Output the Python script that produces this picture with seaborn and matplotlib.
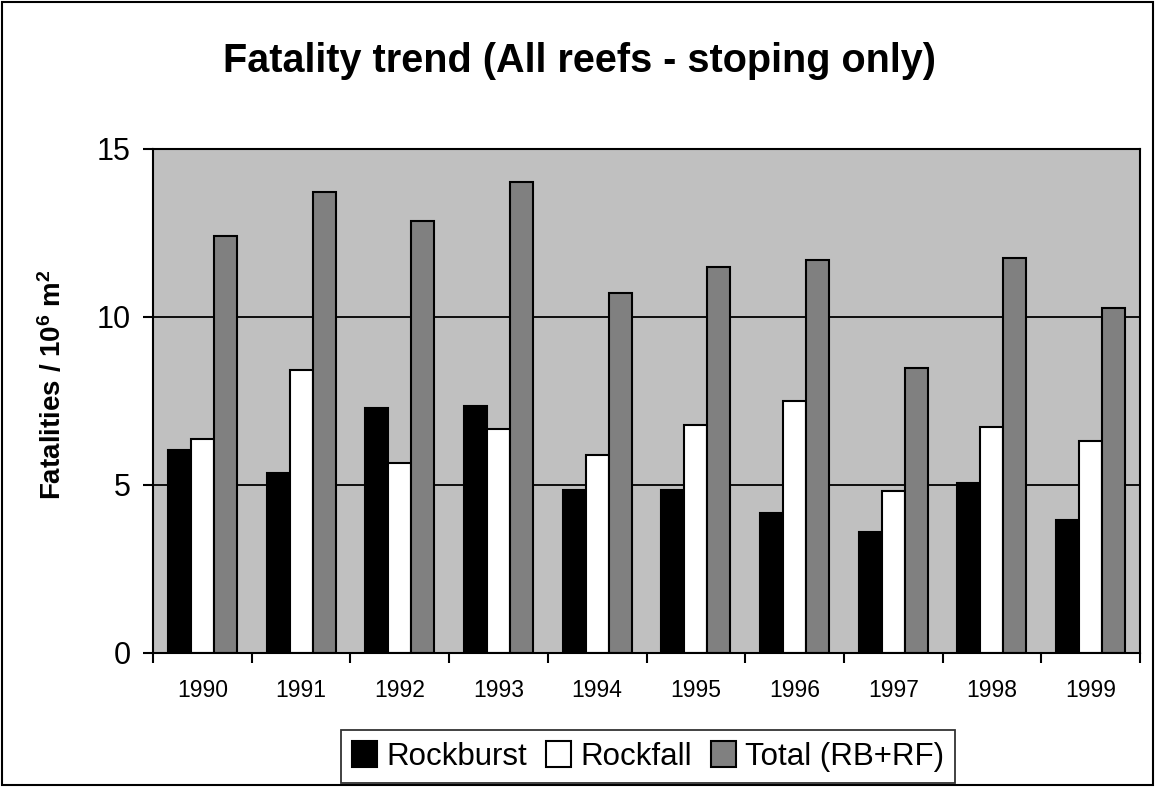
import numpy as np
import pandas as pd
import seaborn as sns
import matplotlib.pyplot as plt
from matplotlib.patches import Rectangle

years = ["1990", "1991", "1992", "1993", "1994", "1995", "1996", "1997", "1998", "1999"]
rockburst = [6.03, 5.37, 7.28, 7.34, 4.84, 4.84, 4.17, 3.59, 5.07, 3.95]
rockfall = [6.37, 8.41, 5.65, 6.67, 5.89, 6.78, 7.51, 4.82, 6.73, 6.32]
total = [12.40, 13.72, 12.87, 14.02, 10.72, 11.50, 11.69, 8.47, 11.75, 10.26]
series_names = ["Rockburst", "Rockfall", "Total (RB+RF)"]
y_ticks = [0, 5, 10, 15]

df = pd.DataFrame({
    "year": years * 3,
    "value": rockburst + rockfall + total,
    "series": [s for s in series_names for _ in years],
})

sns.set_style("white")
plt.rcParams["font.family"] = ["Liberation Sans", "DejaVu Sans"]
plt.rcParams["text.color"] = "black"
plt.rcParams["xtick.color"] = "black"
plt.rcParams["ytick.color"] = "black"
plt.rcParams["axes.labelcolor"] = "black"
plt.rcParams["mathtext.fontset"] = "custom"
plt.rcParams["mathtext.bf"] = "Liberation Sans:bold"
plt.rcParams["mathtext.rm"] = "Liberation Sans"

fig = plt.figure(figsize=(11.55, 7.87), dpi=100)
ax = fig.add_axes([0.1325, 0.1703, 0.8545, 0.6404])

sns.barplot(data=df, x="year", y="value", hue="series",
            palette=["black", "white", "#808080"], edgecolor="black",
            linewidth=1.5, width=0.7, gap=0, saturation=1, ax=ax)
ax.get_legend().remove()

ax.set_facecolor("#C0C0C0")
ax.set_ylim(0, 15)
ax.set_xlim(-0.5, len(years) - 0.5)
ax.set_yticks(y_ticks)
ax.yaxis.grid(True, color="black", linewidth=1.3)
ax.set_axisbelow(True)
for sp in ax.spines.values():
    sp.set_color("black")
    sp.set_linewidth(1.5)
    sp.set_visible(True)

ax.tick_params(axis="y", direction="out", length=7, width=1.5, pad=9, labelsize=22, left=True)
ax.tick_params(axis="x", which="major", length=0, pad=19, labelsize=16.5)
ax.set_xticks(np.arange(-0.5, len(years), 1), minor=True)
ax.tick_params(axis="x", which="minor", direction="out", length=7, width=1.5, bottom=True)
ax.set_xlabel("")
ax.set_ylabel(r"Fatalities / $\mathbf{10^6}$ $\mathbf{m^2}$", fontsize=20, fontweight="bold")
ax.yaxis.set_label_coords(-0.087, 0.532)

fig.text(0.502, 0.9085, "Fatality trend (All reefs - stoping only)", ha="center", va="baseline",
         fontsize=28.5, fontweight="bold")

handles, labels = ax.get_legend_handles_labels()
leg = fig.legend(handles, labels, loc="center", bbox_to_anchor=(0.561, 0.0388), ncol=3,
                 fontsize=22.5, frameon=True, fancybox=False, edgecolor="black",
                 handlelength=0.8, handleheight=0.9, handletextpad=0.3,
                 columnspacing=0.6, borderpad=0.35, borderaxespad=0)
leg.get_frame().set_linewidth(1.3)

fig.patches.append(Rectangle((0.002, 0.002), 0.996, 0.995, transform=fig.transFigure,
                             fill=False, edgecolor="black", linewidth=1.5))

fig.savefig("out.png", dpi=100)
